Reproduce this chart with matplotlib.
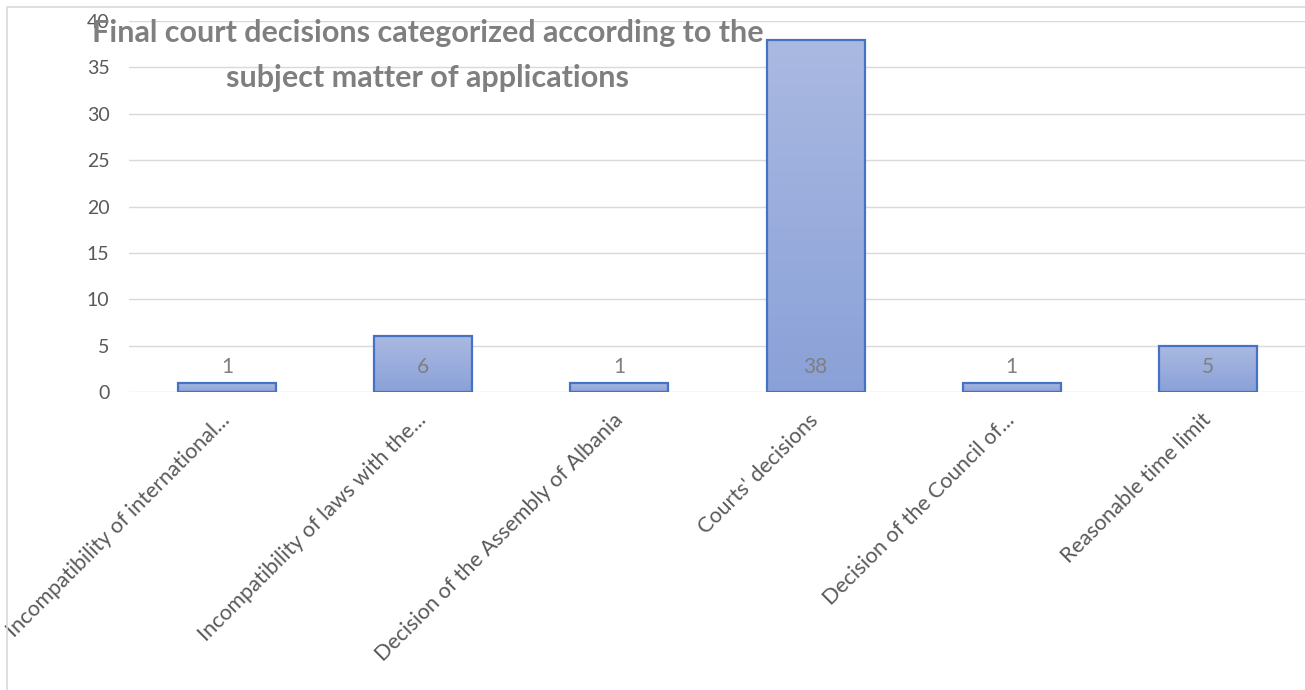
import matplotlib.pyplot as plt
import numpy as np
from matplotlib.colors import LinearSegmentedColormap
from matplotlib.patches import Rectangle

categories = ["Incompatibility of international...",
              "Incompatibility of laws with the...",
              "Decision of the Assembly of Albania",
              "Courts' decisions",
              "Decision of the Council of...",
              "Reasonable time limit"]
values = [1, 6, 1, 38, 1, 5]
title_lines = ["Final court decisions categorized according to the",
               "subject matter of applications"]

plt.rcParams['font.family'] = ['Lato', 'DejaVu Sans']
grey = '#595959'

fig = plt.figure(figsize=(13.05, 6.9), dpi=100)
ax = fig.add_axes([129 / 1305, 1 - 392 / 690, 1177 / 1305, 371 / 690])

x = np.arange(len(categories))
bars = ax.bar(x, values, width=0.5, facecolor='none', edgecolor='#4472c4', linewidth=1.6, zorder=3)

# vertical gradient inside each bar, like the office chart fill
cmap = LinearSegmentedColormap.from_list('fill', ['#8aa1d8', '#aab9e1'])
grad = np.linspace(0, 1, 256).reshape(-1, 1)
for b in bars:
    im = ax.imshow(grad, cmap=cmap, aspect='auto', origin='lower', zorder=2,
                   extent=[b.get_x(), b.get_x() + b.get_width(), 0, b.get_height()])
    im.set_clip_path(b)

for xi, v in zip(x, values):
    ax.annotate(str(v), (xi, 0), xytext=(0, 18), textcoords='offset points',
                ha='center', va='center', fontsize=15, color='#7f7f7f', zorder=4)

ax.set_xlim(-0.5, len(categories) - 0.5)
ax.set_ylim(0, 40)
ax.set_yticks(range(0, 41, 5))
ax.grid(axis='y', color='#d9d9d9', linewidth=1, zorder=0)
ax.set_axisbelow(True)
for s in ax.spines.values():
    s.set_visible(False)
ax.tick_params(length=0, colors=grey)
ax.tick_params(axis='y', pad=14, labelsize=14)
ax.set_xticks(x)
ax.set_xticklabels(categories, rotation=45, ha='right', va='center', rotation_mode='anchor')
ax.tick_params(axis='x', pad=18, labelsize=15.5)

# title sits over the plot area, as in the original
for line, ypix in zip(title_lines, [33, 78]):
    fig.text(428 / 1305, 1 - ypix / 690, line, ha='center', va='center', fontsize=22,
             fontweight='bold', color='#7f7f7f')

fig.patches.append(Rectangle((7 / 1305, -0.1), 1.2, (683 / 690) + 0.1, transform=fig.transFigure,
                             fill=False, edgecolor='#d9d9d9', linewidth=1.2))

fig.savefig("out.png", dpi=100)
